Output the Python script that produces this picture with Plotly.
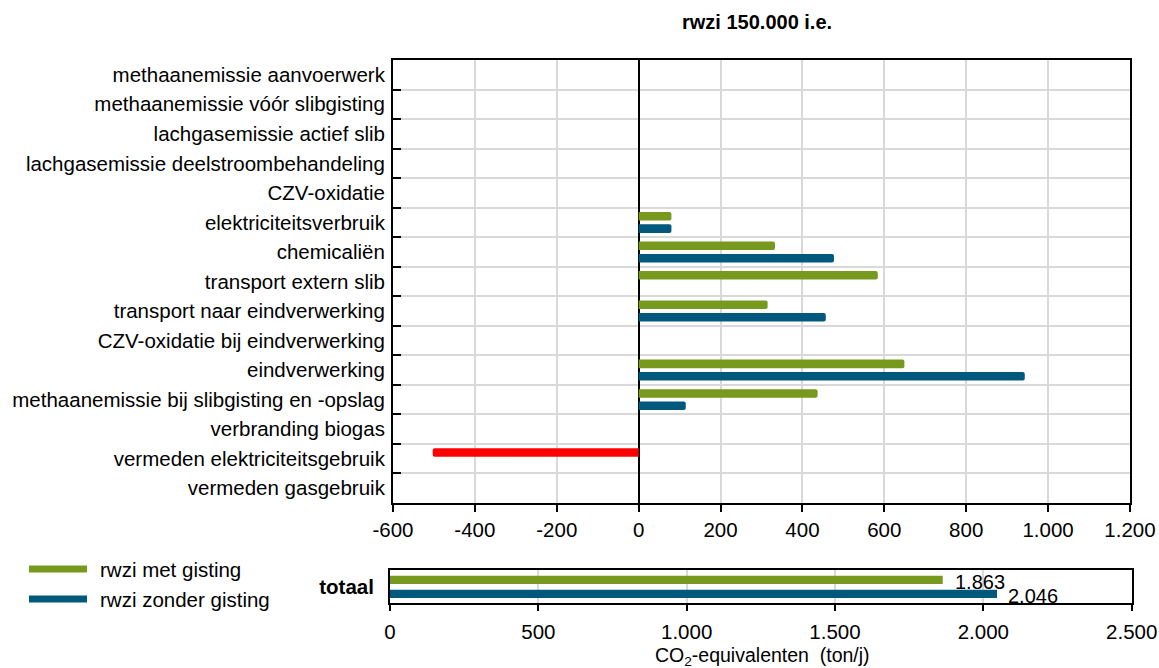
import plotly.graph_objects as go

# Emission sources (top to bottom)
categories = [
    "methaanemissie aanvoerwerk",
    "methaanemissie vóór slibgisting",
    "lachgasemissie actief slib",
    "lachgasemissie deelstroombehandeling",
    "CZV-oxidatie",
    "elektriciteitsverbruik",
    "chemicaliën",
    "transport extern slib",
    "transport naar eindverwerking",
    "CZV-oxidatie bij eindverwerking",
    "eindverwerking",
    "methaanemissie bij slibgisting en -opslag",
    "verbranding biogas",
    "vermeden elektriciteitsgebruik",
    "vermeden gasgebruik",
]

# CO2-equivalenten (ton/j) per source
met_gisting = [None, None, None, None, None, 80, 333, 584, 315, None, 649, 437, None, -503, None]
zonder_gisting = [None, None, None, None, None, 80, 477, None, 457, None, 943, 115, None, None, None]

# Totals
totaal_label = "totaal"
totaal_met = 1863
totaal_zonder = 2046

series_names = ["rwzi met gisting", "rwzi zonder gisting"]

main_ticks = [-600, -400, -200, 0, 200, 400, 600, 800, 1000, 1200]
main_ticktext = ["-600", "-400", "-200", "0", "200", "400", "600", "800", "1.000", "1.200"]
total_ticks = [0, 500, 1000, 1500, 2000, 2500]
total_ticktext = ["0", "500", "1.000", "1.500", "2.000", "2.500"]

W, H = 1159, 668
GREEN = "#76991E"
BLUE = "#00587C"
RED = "#FF0000"
GRID = "#D9D9D9"
FONT = "Liberation Sans, Arial, sans-serif"
FS = 20.5


def nl(v):
    return f"{v:,}".replace(",", ".")


fig = go.Figure()

# Main chart: green bar above, blue bar below in each category
fig.add_trace(go.Bar(
    y=categories, x=met_gisting, orientation="h",
    name=series_names[0], showlegend=False,
    marker=dict(color=[RED if (v is not None and v < 0) else GREEN for v in met_gisting],
                cornerradius=2, line=dict(width=0)),
    offset=-0.355, width=0.29,
    xaxis="x", yaxis="y", hoverinfo="x+y",
))
fig.add_trace(go.Bar(
    y=categories, x=zonder_gisting, orientation="h",
    name=series_names[1], showlegend=False,
    marker=dict(color=BLUE, cornerradius=2, line=dict(width=0)),
    offset=0.065, width=0.29,
    xaxis="x", yaxis="y", hoverinfo="x+y",
))

# Totals chart
fig.add_trace(go.Bar(
    y=[totaal_label], x=[totaal_met], orientation="h",
    name=series_names[0], showlegend=False,
    marker=dict(color=GREEN, line=dict(width=0)),
    offset=-0.325, width=0.25,
    xaxis="x2", yaxis="y2",
))
fig.add_trace(go.Bar(
    y=[totaal_label], x=[totaal_zonder], orientation="h",
    name=series_names[1], showlegend=False,
    marker=dict(color=BLUE, line=dict(width=0)),
    offset=0.1, width=0.25,
    xaxis="x2", yaxis="y2",
))

annotations = [
    dict(text="<b>rwzi 150.000 i.e.</b>", x=757 / W, y=1 - 22 / H, xref="paper", yref="paper",
         xanchor="center", yanchor="middle", showarrow=False,
         font=dict(size=20, family=FONT, color="#000")),
    dict(text="CO<sub>2</sub>-equivalenten  (ton/j)", x=762 / W, y=0,
         xref="paper", yref="paper", xanchor="center", yanchor="bottom", yshift=-3,
         showarrow=False, font=dict(size=19.5, family=FONT, color="#000")),
    dict(text=nl(totaal_met), x=totaal_met, y=-0.2, xref="x2", yref="y2",
         xanchor="left", xshift=10, yshift=-2, showarrow=False,
         font=dict(size=FS - 0.5, family=FONT, color="#000")),
    dict(text=nl(totaal_zonder), x=totaal_zonder, y=0.225, xref="x2", yref="y2",
         xanchor="left", xshift=9, yshift=-2, showarrow=False,
         font=dict(size=FS - 0.5, family=FONT, color="#000")),
]

# Legend drawn as line swatches with labels
shapes = []
for i, (name, col) in enumerate(zip(series_names, [GREEN, BLUE])):
    yc = 1 - (569 + 30 * i) / H
    shapes.append(dict(type="line", xref="paper", yref="paper",
                       x0=29 / W, x1=87 / W, y0=yc, y1=yc,
                       line=dict(color=col, width=7)))
    annotations.append(dict(text=name, x=98 / W, y=yc, xref="paper", yref="paper",
                            xanchor="left", yanchor="middle", showarrow=False,
                            font=dict(size=FS, family=FONT, color="#000")))

fig.update_layout(
    width=W, height=H,
    template="none",
    margin=dict(l=0, r=0, t=0, b=0),
    paper_bgcolor="white", plot_bgcolor="white",
    barmode="overlay",
    font=dict(family=FONT, size=FS, color="#000"),
    showlegend=False,
    annotations=annotations,
    shapes=shapes,
    xaxis=dict(
        domain=[393 / W, 1130 / W], anchor="y",
        range=[-600, 1200], tickmode="array", tickvals=main_ticks, ticktext=main_ticktext,
        showgrid=True, gridcolor=GRID, gridwidth=1.5,
        zeroline=True, zerolinecolor="#000", zerolinewidth=1.5,
        showline=True, mirror=True, linecolor="#000", linewidth=2,
        ticks="outside", ticklen=7, tickwidth=1.5, tickcolor="#000",
        tickfont=dict(size=FS, family=FONT, color="#000"),
        automargin=False, fixedrange=True,
    ),
    yaxis=dict(
        domain=[1 - 503 / H, 1 - 60 / H], anchor="x",
        type="category", categoryorder="array", categoryarray=categories,
        range=[len(categories) - 0.5, -0.5],
        tickson="boundaries", ticks="inside", ticklen=8, tickwidth=1.5, tickcolor="#000",
        showgrid=True, gridcolor=GRID, gridwidth=1.5,
        showline=True, mirror=True, linecolor="#000", linewidth=2,
        tickfont=dict(size=FS, family=FONT, color="#000"),
        ticklabelstandoff=2,
        automargin=False, fixedrange=True,
    ),
    xaxis2=dict(
        domain=[390 / W, 1131.7 / W], anchor="y2",
        range=[0, 2500], tickmode="array", tickvals=total_ticks, ticktext=total_ticktext,
        showgrid=True, gridcolor=GRID, gridwidth=1.5, zeroline=False,
        showline=True, mirror=True, linecolor="#000", linewidth=2,
        ticks="outside", ticklen=6, tickwidth=1.5, tickcolor="#000",
        tickfont=dict(size=FS, family=FONT, color="#000"),
        ticklabelstandoff=3,
        automargin=False, fixedrange=True,
    ),
    yaxis2=dict(
        domain=[1 - 603 / H, 1 - 570 / H], anchor="x2",
        type="category", range=[0.5, -0.5],
        ticks="", showgrid=False,
        showline=True, mirror=True, linecolor="#000", linewidth=2,
        tickfont=dict(size=FS, family=FONT, color="#000", weight="bold"),
        ticklabelstandoff=10,
        automargin=False, fixedrange=True,
    ),
)

fig.write_html("out.html")
